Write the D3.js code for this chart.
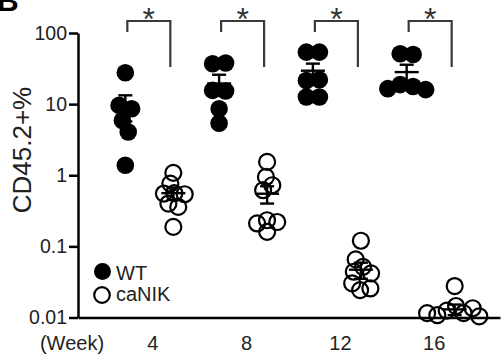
<!DOCTYPE html>
<html>
<head>
<meta charset="utf-8">
<script src="https://cdn.jsdelivr.net/npm/d3@7"></script>
<style>
  body { margin: 0; background: #fff; }
  svg { display: block; font-family: "Liberation Sans", Arial, Helvetica, sans-serif; }
  .axis text { font-size: 19.5px; fill: #222; }
  .axis path, .axis line { stroke: #000; }
  .label { font-size: 20px; fill: #222; }
  .bracket { fill: none; stroke: #3a3a3a; stroke-width: 2.2; }
  .errbar { stroke: #000; stroke-width: 2.4; }
</style>
</head>
<body>
<svg id="chart" width="503" height="357"></svg>
<script>
const weeks = [4, 8, 12, 16];
const tickValues = [0.01, 0.1, 1, 10, 100];
const genotypes = ["WT", "caNIK"];

const wtValues = [
  [27.6, 9.6, 8.6, 5.9, 4.05, 1.38],
  [37, 37.8, 15.6, 15.3, 8.6, 5.4],
  [53.8, 53.8, 21.5, 22.0, 12.6, 12.6],
  [51, 49.9, 18.8, 17.7, 16.5, 16.0]
];
const canikValues = [
  [1.08, 0.764, 0.56, 0.553, 0.541, 0.40, 0.359, 0.188],
  [1.54, 0.946, 0.724, 0.616, 0.233, 0.22, 0.21, 0.16],
  [0.12, 0.0656, 0.0516, 0.044, 0.0418, 0.0302, 0.0256, 0.0243],
  [0.0277, 0.0145, 0.0135, 0.0125, 0.0115, 0.0115, 0.0108, 0.0104]
];

const wtMean = [9.5, 19.5, 29.5, 28.2];
const wtSem = [3.8, 6.4, 7.6, 7.6];
const canikMean = [0.56, 0.55, 0.047, 0.013];
const canikSem = [0.11, 0.15, 0.012, 0.0022];

const significance = ["*", "*", "*", "*"];

const svg = d3.select("#chart");
const width = 503;
const height = 357;
const margin = { top: 33, right: 3, bottom: 39, left: 78 };

const x = d3.scalePoint()
  .domain(weeks)
  .range([margin.left, width - margin.right])
  .padding(0.75);

const offset = d3.scaleOrdinal().domain(genotypes).range([-23, 25]);

const y = d3.scaleLog()
  .domain([0.01, 100])
  .range([height - margin.bottom - 0.5, margin.top]);

// panel letter, cut by the top edge as in the figure
svg.append("text")
  .attr("x", -3)
  .attr("y", 11)
  .attr("font-size", 30)
  .attr("font-weight", "bold")
  .attr("fill", "#000")
  .text("B");

// axes
const yAxis = svg.append("g")
  .attr("class", "axis")
  .attr("transform", `translate(${margin.left},0)`)
  .call(d3.axisLeft(y).tickValues(tickValues).tickFormat((d) => String(d)).tickSize(9).tickSizeOuter(0).tickPadding(2));
yAxis.selectAll("path, line").attr("stroke-width", 2.5);

const xAxis = svg.append("g")
  .attr("class", "axis")
  .attr("transform", `translate(0,${y(0.01)})`)
  .call(d3.axisBottom(x).tickSize(0).tickSizeOuter(0).tickPadding(18));
xAxis.select("path").attr("stroke-width", 2.5);
xAxis.selectAll("text").attr("dx", 4).style("font-size", "20px");

svg.append("text")
  .attr("class", "label")
  .attr("x", 72)
  .attr("y", 350)
  .attr("text-anchor", "middle")
  .text("(Week)");

svg.append("text")
  .attr("class", "label")
  .attr("transform", "translate(31,150) rotate(-90)")
  .attr("text-anchor", "middle")
  .style("font-size", "26px")
  .text("CD45.2+%");

// beeswarm-like spread with fixed y
function spread(values, cx, radius) {
  const nodes = values.map((v) => ({ value: v, x: cx, fy: y(v) }));
  const sim = d3.forceSimulation(nodes)
    .force("x", d3.forceX(cx).strength(0.08))
    .force("collide", d3.forceCollide(radius).iterations(3))
    .stop();
  for (let i = 0; i < 300; i++) sim.tick();
  return nodes;
}

const groups = [];
weeks.forEach((w, i) => {
  groups.push({ week: w, g: "WT", values: wtValues[i], mean: wtMean[i], sem: wtSem[i] });
  groups.push({ week: w, g: "caNIK", values: canikValues[i], mean: canikMean[i], sem: canikSem[i] });
});

groups.forEach((grp) => {
  const cx = x(grp.week) + offset(grp.g);
  const nodes = spread(grp.values, cx, grp.g === "WT" ? 6.5 : 5.2);
  const sel = svg.append("g").selectAll("circle").data(nodes).join("circle")
    .attr("cx", (d) => d.x)
    .attr("cy", (d) => d.fy);
  if (grp.g === "WT") {
    sel.attr("r", 8.8).attr("fill", "#000");
  } else {
    sel.attr("r", 8).attr("fill", "none").attr("stroke", "#000").attr("stroke-width", 2.2);
  }

  const eb = svg.append("g").attr("class", "errbar");
  const hi = y(grp.mean + grp.sem);
  const lo = y(grp.mean - grp.sem);
  eb.append("line").attr("x1", cx).attr("x2", cx).attr("y1", hi).attr("y2", lo);
  eb.append("line").attr("x1", cx - 7).attr("x2", cx + 7).attr("y1", hi).attr("y2", hi);
  eb.append("line").attr("x1", cx - 7).attr("x2", cx + 7).attr("y1", lo).attr("y2", lo);
  eb.append("line").attr("x1", cx - 12).attr("x2", cx + 12).attr("y1", y(grp.mean)).attr("y2", y(grp.mean));
});

// significance brackets
weeks.forEach((w, i) => {
  const x1 = x(w) + offset("WT") + 2;
  const x2 = x(w) + offset("caNIK") - 3;
  svg.append("path")
    .attr("class", "bracket")
    .attr("d", `M${x1},32V21H${x2}V67`);
  svg.append("text")
    .attr("x", (x1 + x2) / 2)
    .attr("y", 30)
    .attr("text-anchor", "middle")
    .attr("font-size", 32)
    .attr("fill", "#333")
    .text(significance[i]);
});

// legend
const legend = svg.append("g");
legend.append("circle").attr("cx", 102.5).attr("cy", 271.5).attr("r", 8.5).attr("fill", "#000");
legend.append("circle").attr("cx", 102).attr("cy", 295).attr("r", 7.8)
  .attr("fill", "none").attr("stroke", "#000").attr("stroke-width", 2.2);
legend.append("text").attr("class", "label").attr("x", 116).attr("y", 280).text("WT");
legend.append("text").attr("class", "label").attr("x", 116).attr("y", 301).text("caNIK");
</script>
</body>
</html>
